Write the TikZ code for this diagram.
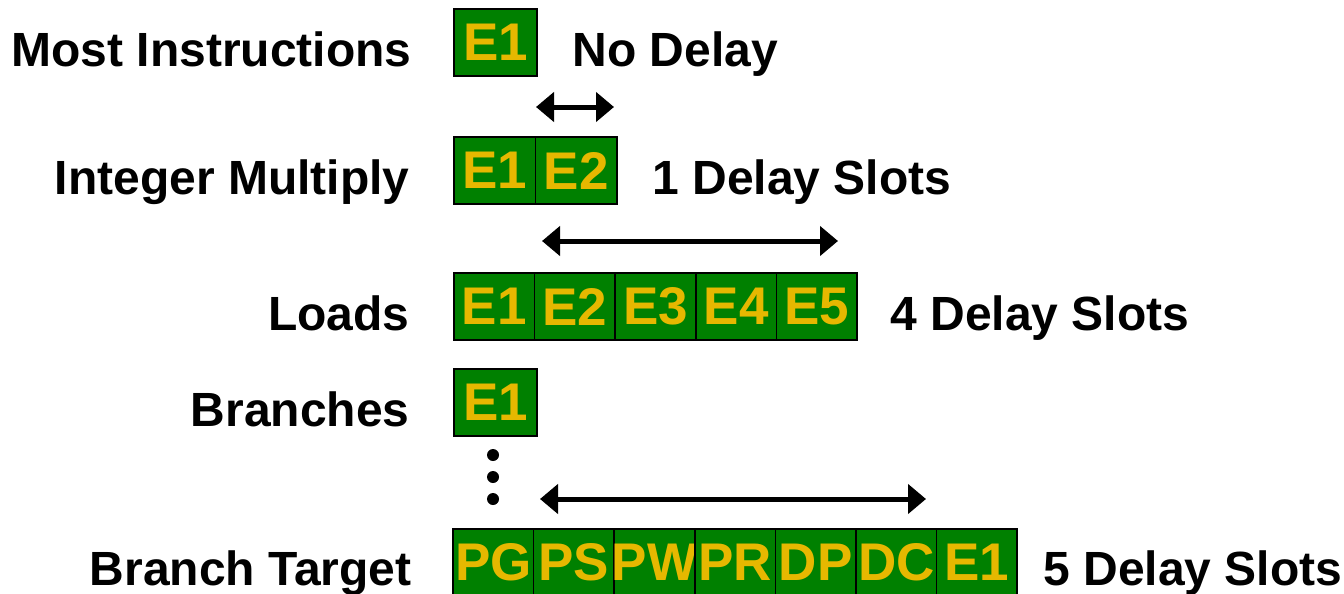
\documentclass[tikz,border=0pt]{standalone}
\usepackage{fontspec}
\setmainfont{Liberation Sans}
\usetikzlibrary{arrows.meta}
\definecolor{boxgreen}{RGB}{0,128,0}
\definecolor{boxgold}{RGB}{230,184,0}
\begin{document}
\begin{tikzpicture}[x=0.5pt,y=-0.5pt,
  stage/.style={draw=black,line width=0.75pt,fill=boxgreen,text=boxgold,inner sep=0pt,
    minimum height=33.5pt,font=\fontsize{26.5}{30}\selectfont\bfseries},
  lbl/.style={font=\fontsize{24}{28}\selectfont\bfseries,inner sep=0pt},
  gaparrow/.style={line width=2.5pt,{Triangle[length=9pt,width=14.5pt]}-{Triangle[length=9pt,width=14.5pt]}},
  vdot/.style={circle,fill=black,inner sep=0pt,minimum size=6pt}]
\useasboundingbox (0,0) rectangle (1344,594);
\clip (0,0) rectangle (1344,594);
% row 1
\node[stage,minimum width=41.5pt] (r1a) at (495.5,42.5) {\makebox[0pt]{E1}};
\node[lbl,anchor=base east] (l1) at (412,66.5) {Most Instructions};
\node[lbl,anchor=base west] (d1) at (572,66.5) {No Delay};
% row 2
\node[stage,minimum width=40.75pt] (r2a) at (494.75,170.5) {\makebox[0pt]{E1}};
\node[stage,minimum width=40.75pt] (r2b) at (576.25,170.5) {\makebox[0pt]{E2}};
\node[lbl,anchor=base east] (l2) at (410,194.5) {Integer Multiply};
\node[lbl,anchor=base west] (d2) at (652,194.5) {1 Delay Slots};
% row 3
\foreach \t [count=\i from 0] in {E1,E2,E3,E4,E5}
  \node[stage,minimum width=40.3pt] (r3-\i) at (494.3+80.6*\i,306.5) {\makebox[0pt]{\t}};
\node[lbl,anchor=base east] (l3) at (410,330.5) {Loads};
\node[lbl,anchor=base west] (d3) at (890,330.5) {4 Delay Slots};
% row 4
\node[stage,minimum width=41.5pt] (r4a) at (495.5,402.5) {\makebox[0pt]{E1}};
\node[lbl,anchor=base east] (l4) at (410,426.5) {Branches};
\node[vdot] (v1) at (493,455) {};
\node[vdot] (v2) at (493,477) {};
\node[vdot] (v3) at (493,499) {};
% row 5
\foreach \t [count=\i from 0] in {PG,PS,PW,PR,DP,DC,E1}
  \node[stage,minimum width=40.3pt] (r5-\i) at (493.3+80.6*\i,562.5) {\makebox[0pt]{\t}};
\node[lbl,anchor=base east] (l5) at (412,585) {Branch Target};
\node[lbl,anchor=base west] (d5) at (1043,585) {5 Delay Slots};
% arrows
\coordinate (a1l) at (536,107);
\coordinate (a1r) at (614,107);
\coordinate (a2l) at (542,241);
\coordinate (a2r) at (838,241);
\coordinate (a3l) at (540,499);
\coordinate (a3r) at (926,499);
\draw[gaparrow] (a1l) -- (a1r);
\draw[gaparrow] (a2l) -- (a2r);
\draw[gaparrow] (a3l) -- (a3r);
\end{tikzpicture}
\end{document}
